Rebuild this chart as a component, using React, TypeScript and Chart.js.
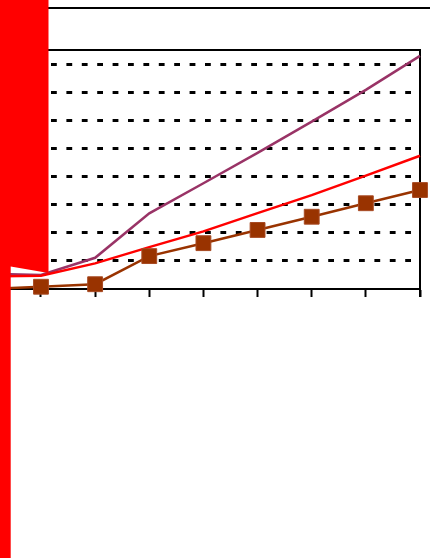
import { useEffect, useRef } from "react";
import { Chart, registerables } from "chart.js";

Chart.register(...registerables);

// Category positions (step -1 sits just left of the visible plot)
const xSteps = [-1, 0, 1, 2, 3, 4, 5, 6, 7];

// Series values
const squareSeries = [0.0, 0.08, 0.17, 1.17, 1.63, 2.1, 2.57, 3.05, 3.52];
const redSeries = [0.45, 0.47, 0.91, 1.49, 2.05, 2.7, 3.34, 4.03, 4.74];
const purpleSeries = [0.55, 0.5, 1.11, 2.69, 3.76, 4.84, 5.95, 7.08, 8.29];

// Value axis range and dotted grid levels
const yMin = 0;
const yMax = 8.5;
const gridLevels = [1, 2, 3, 4, 5, 6, 7, 8];

const toPoints = (values: number[]) => values.map((y, i) => ({ x: xSteps[i], y }));

// Plot frame (top + right edge), header rule and red masking shape
const framePlugin = {
  id: "frame",
  beforeDatasetsDraw(chart: any) {
    const { ctx, chartArea: a } = chart;
    ctx.save();
    ctx.strokeStyle = "#000";
    ctx.lineWidth = 2;
    ctx.beginPath();
    ctx.moveTo(48, a.top);
    ctx.lineTo(a.right, a.top);
    ctx.lineTo(a.right, a.bottom + 8);
    ctx.stroke();
    ctx.restore();
  },
  afterDraw(chart: any) {
    const { ctx, width, height } = chart;
    ctx.save();
    ctx.strokeStyle = "#000";
    ctx.lineWidth = 2;
    ctx.beginPath();
    ctx.moveTo(48, 8);
    ctx.lineTo(width, 8);
    ctx.stroke();

    ctx.fillStyle = "#ff0000";
    ctx.beginPath();
    ctx.moveTo(0, 0);
    ctx.lineTo(48.5, 0);
    ctx.lineTo(48.5, 273);
    ctx.lineTo(10.7, 266.5);
    ctx.lineTo(10.7, height);
    ctx.lineTo(0, height);
    ctx.closePath();
    ctx.fill();
    ctx.restore();
  },
};

export default function App() {
  const canvasRef = useRef<HTMLCanvasElement | null>(null);

  useEffect(() => {
    const canvas = canvasRef.current;
    if (!canvas) return;
    const chart = new Chart(canvas, {
      type: "line",
      data: {
        datasets: [
          {
            data: toPoints(squareSeries),
            borderColor: "#993300",
            backgroundColor: "#993300",
            borderWidth: 2.5,
            pointStyle: "rect",
            pointRadius: 10.5,
            pointBorderWidth: 1,
            pointBorderColor: "#a84a22",
            pointBackgroundColor: "#993300",
            tension: 0,
            clip: false,
          },
          {
            data: toPoints(redSeries),
            borderColor: "#ff0000",
            borderWidth: 2.5,
            pointRadius: 0,
            tension: 0,
            clip: false,
          },
          {
            data: toPoints(purpleSeries),
            borderColor: "#993366",
            borderWidth: 2.5,
            pointRadius: 0,
            tension: 0,
            clip: false,
          },
        ],
      },
      options: {
        animation: false,
        responsive: false,
        devicePixelRatio: 1,
        layout: { autoPadding: false, padding: { top: 50, right: 10, left: 0, bottom: 0 } },
        plugins: { legend: { display: false }, tooltip: { enabled: false } },
        scales: {
          x: {
            type: "linear",
            min: -0.757,
            max: 7,
            ticks: { display: false, stepSize: 1, includeBounds: false },
            grid: {
              drawOnChartArea: false,
              drawTicks: true,
              tickLength: 8,
              tickWidth: 2,
              tickColor: "#000",
            },
            border: { display: true, color: "#000", width: 2 },
            afterFit: (scale: any) => {
              scale.height = 269;
            },
          },
          y: {
            min: yMin,
            max: yMax,
            ticks: { display: false, stepSize: 1 },
            afterBuildTicks: (scale: any) => {
              scale.ticks = gridLevels.map((value) => ({ value }));
            },
            grid: { color: "#000", lineWidth: 3, drawTicks: false },
            border: { display: false, dash: [5.8, 9.6], dashOffset: 10.6 },
            afterFit: (scale: any) => {
              scale.width = 0;
            },
          },
        },
      },
      plugins: [framePlugin],
    });
    return () => chart.destroy();
  }, []);

  return (
    <div style={{ position: "absolute", left: 0, top: 0, width: 430, height: 558, background: "#fff" }}>
      <canvas ref={canvasRef} width={430} height={558} style={{ display: "block" }} />
    </div>
  );
}
